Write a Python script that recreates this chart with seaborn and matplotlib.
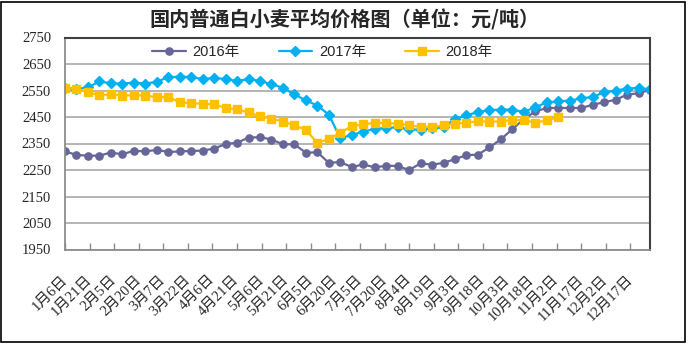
import pandas as pd
import matplotlib
matplotlib.use("Agg")
import matplotlib.pyplot as plt
from matplotlib.patches import Rectangle
import seaborn as sns

# Weekly observation dates: one calendar year, every 7 days from 6 Jan
week_dates = pd.date_range("2018-01-06", periods=52, freq="7D")

price_2016 = [2320, 2307, 2304, 2304, 2316, 2309, 2323, 2320, 2326, 2318,
              2320, 2322, 2323, 2331, 2348, 2353, 2372, 2374, 2365, 2347,
              2347, 2315, 2317, 2277, 2280, 2261, 2271, 2260, 2266, 2265,
              2250, 2275, 2270, 2277, 2291, 2306, 2308, 2335, 2366, 2404,
              2442, 2471, 2484, 2484, 2484, 2484, 2496, 2506, 2515, 2534,
              2540, 2552]
price_2017 = [2561, 2555, 2562, 2584, 2577, 2576, 2580, 2576, 2583, 2600,
              2602, 2601, 2593, 2598, 2593, 2586, 2593, 2586, 2574, 2560,
              2535, 2513, 2493, 2459, 2370, 2382, 2395, 2405, 2409, 2411,
              2403, 2402, 2407, 2411, 2443, 2456, 2469, 2476, 2478, 2478,
              2469, 2487, 2505, 2509, 2512, 2520, 2526, 2543, 2550, 2557,
              2560, 2554]
price_2018 = [2560, 2556, 2544, 2532, 2536, 2531, 2532, 2531, 2525, 2525,
              2506, 2502, 2500, 2498, 2484, 2479, 2467, 2453, 2444, 2433,
              2418, 2402, 2352, 2367, 2390, 2416, 2422, 2428, 2427, 2425,
              2419, 2412, 2412, 2418, 2425, 2429, 2434, 2433, 2433, 2440,
              2437, 2429, 2437, 2450]

series_names = ["2016年", "2017年", "2018年"]
series_values = [price_2016, price_2017, price_2018]
series_colors = ["#666699", "#00B0F0", "#FFC000"]
series_markers = ["o", "D", "s"]
series_msizes = [5.2, 5.0, 5.6]

tick_labels = ["1月6日", "1月21日", "2月5日", "2月20日", "3月7日", "3月22日",
               "4月6日", "4月21日", "5月6日", "5月21日", "6月5日", "6月20日",
               "7月5日", "7月20日", "8月4日", "8月19日", "9月3日", "9月18日",
               "10月3日", "10月18日", "11月2日", "11月17日", "12月2日", "12月17日"]
tick_dates = pd.date_range("2018-01-06", periods=len(tick_labels), freq="15D")
y_ticks = list(range(1950, 2751, 100))
title_text = "国内普通白小麦平均价格图（单位：元/吨）"

frames = []
for name, vals in zip(series_names, series_values):
    frames.append(pd.DataFrame({"date": week_dates[:len(vals)],
                                "price": vals, "year": name}))
data = pd.concat(frames, ignore_index=True)

sns.set_theme(style="white")
plt.rcParams["font.family"] = ["Liberation Serif", "Noto Sans CJK SC"]

W, H = 689, 344
fig = plt.figure(figsize=(W / 100, H / 100), dpi=100)
ax = fig.add_axes([65 / W, 1 - 249.5 / H, 585 / W, (249.5 - 37.5) / H])

for name, color, mk, ms in zip(series_names, series_colors,
                               series_markers, series_msizes):
    sub = data[data["year"] == name]
    sns.lineplot(data=sub, x="date", y="price", ax=ax, color=color,
                 marker=mk, markersize=ms, markeredgecolor=color,
                 markeredgewidth=1.0, linewidth=1.6, label=name,
                 legend=False)

ax.set_xlim(week_dates[0], week_dates[-1])
ax.set_ylim(y_ticks[0], y_ticks[-1])
ax.set_yticks(y_ticks)
ax.set_yticklabels([str(v) for v in y_ticks])
ax.yaxis.grid(True, color="#a0a0a0", linewidth=1.1)
ax.xaxis.grid(False)

ax.set_xticks(tick_dates)
ax.set_xticklabels(tick_labels, rotation=45, ha="right", va="center",
                   rotation_mode="anchor",
                   fontfamily=["Liberation Serif", "Noto Sans CJK SC"],
                   fontsize=10.5)
ax.tick_params(axis="x", direction="in", length=5, width=1.0,
               color="#8c8c8c", pad=20, bottom=True)
ax.tick_params(axis="y", length=0, pad=10, labelsize=10.5)
ax.set_xlabel("")
ax.set_ylabel("")

for side in ["left", "bottom"]:
    ax.spines[side].set_color("#8c8c8c")
    ax.spines[side].set_linewidth(1.3)
for side in ["top", "right"]:
    ax.spines[side].set_color("#404040")
    ax.spines[side].set_linewidth(1.5)

handles, labels = ax.get_legend_handles_labels()
fig.legend(handles, labels, loc="center left",
           bbox_to_anchor=(152 / W, 1 - 52 / H), ncol=3, frameon=False,
           borderpad=0, borderaxespad=0, handlelength=2.3,
           handletextpad=0.45, columnspacing=2.7,
           prop={"family": ["Liberation Sans", "Noto Sans CJK SC"],
                 "size": 10.5})

fig.text(0.5, 1 - 20 / H, title_text, ha="center", va="center",
         fontsize=14.5, fontweight="bold",
         fontfamily=["Noto Sans CJK SC", "DejaVu Sans"])

# outer frame of the whole figure
fig.patches.append(Rectangle((1 / W, 2 / H), 684 / W, 340 / H,
                             transform=fig.transFigure, fill=False,
                             edgecolor="black", linewidth=1.2))

fig.savefig("out.png", dpi=100)
